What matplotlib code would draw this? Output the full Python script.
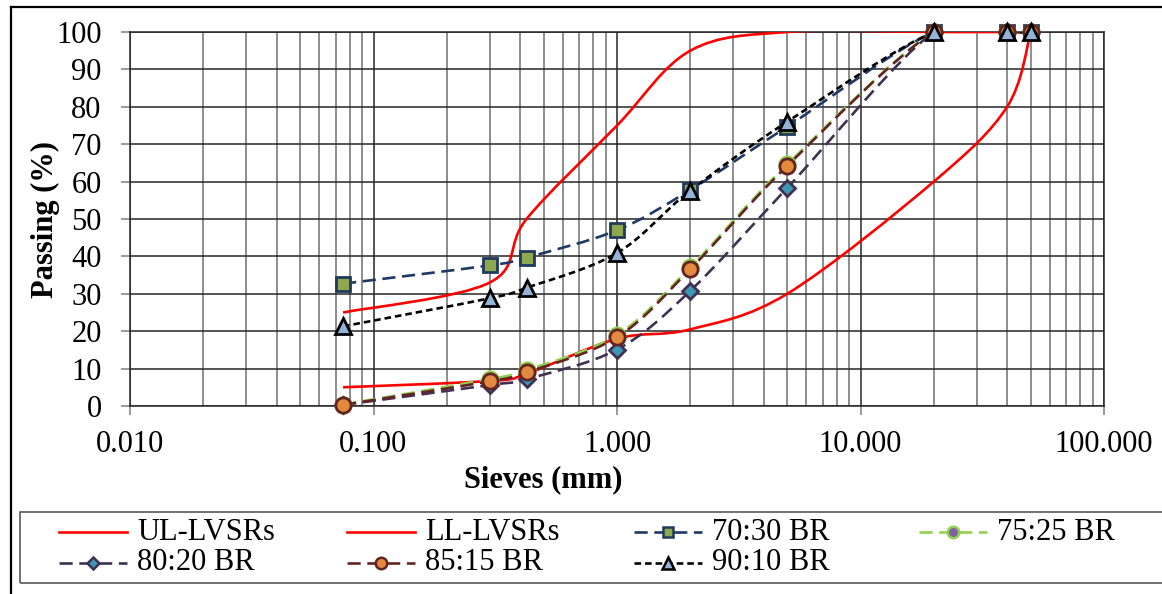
import numpy as np
import matplotlib
matplotlib.use("Agg")
import matplotlib.pyplot as plt
from matplotlib.path import Path
from matplotlib.patches import PathPatch, Rectangle
from matplotlib.lines import Line2D
from matplotlib.ticker import FixedLocator, LogLocator, NullFormatter

plt.rcParams['font.family'] = ['Liberation Serif', 'DejaVu Serif']

# ---------------- data ----------------
sieves = [0.075, 0.3, 0.425, 1.0, 2.0, 5.0, 20.0, 40.0, 50.0]
ul_lvsrs = [25, 33, 50, 75, 95, 100, 100, 100, 100]
ll_lvsrs = [5, 6.7, 8.6, 18, 20.5, 30, 60, 80, 100]
br_70_30 = [32.7, 37.6, 39.7, 47.0, 57.8, 74.7, 100, 100, 100]
br_75_25 = [0.4, 7.2, 9.6, 19.0, 37.1, 64.6, 100, 100, 100]
br_80_20 = [0.3, 5.6, 7.2, 15.1, 30.8, 58.3, 100, 100, 100]
br_85_15 = [0.3, 6.6, 9.0, 18.4, 36.6, 64.2, 100, 100, 100]
br_90_10 = [21.3, 28.8, 31.6, 40.9, 57.6, 76.0, 100, 100, 100]
x_ticks = [0.01, 0.1, 1, 10, 100]
x_tick_labels = ["0.010", "0.100", "1.000", "10.000", "100.000"]
y_ticks = list(range(0, 101, 10))

W, H = 1162, 594
fig = plt.figure(figsize=(W / 100, H / 100), dpi=100)
ax = fig.add_axes([130 / W, 1 - 406 / H, (1104 - 130) / W, (406 - 32) / H])


def smooth_path(xs, ys):
    """Excel-like smoothed line: cubic Bezier in display (log-x) space."""
    lx = np.log10(np.asarray(xs, float))
    yy = np.asarray(ys, float)
    P = np.column_stack([lx, yy])
    n = len(P)
    verts = [P[0]]
    codes = [Path.MOVETO]
    for i in range(n - 1):
        p0 = P[max(i - 1, 0)]
        p1 = P[i]
        p2 = P[i + 1]
        p3 = P[min(i + 2, n - 1)]
        c1 = p1 + (p2 - p0) / 6.0
        c2 = p2 - (p3 - p1) / 6.0
        verts += [c1, c2, p2]
        codes += [Path.CURVE4] * 3
    V = np.array(verts)
    V[:, 0] = 10 ** V[:, 0]
    return Path(V, codes)


series = [
    ("UL-LVSRs", ul_lvsrs, dict(color="#FF0000", ls="-", marker=None)),
    ("LL-LVSRs", ll_lvsrs, dict(color="#FF0000", ls="-", marker=None)),
    ("70:30 BR", br_70_30, dict(color="#1F3864", ls=(0, (5, 2.5)), marker="s",
                                mfc="#8DA84E", mec="#1F3A5C", ms=10.5)),
    ("75:25 BR", br_75_25, dict(color="#92D050", ls=(0, (5, 2.5)), marker="o",
                                mfc="#7F62A1", mec="#92D050", ms=11)),
    ("80:20 BR", br_80_20, dict(color="#403152", ls=(0, (5, 2.5)), marker="D",
                                mfc="#3F97B6", mec="#403152", ms=8.5)),
    ("85:15 BR", br_85_15, dict(color="#632523", ls=(0, (5, 2.5)), marker="o",
                                mfc="#E38A3E", mec="#632523", ms=11)),
    ("90:10 BR", br_90_10, dict(color="#000000", ls=(0, (2.5, 1.5)), marker="^",
                                mfc="#95B3D7", mec="#000000", ms=12)),
]

lw = 1.9
for i, (name, ys, st) in enumerate(series):
    patch = PathPatch(smooth_path(sieves, ys), fill=False, edgecolor=st["color"],
                      lw=lw, linestyle=st["ls"], zorder=3 + i * 0.1,
                      capstyle="butt", joinstyle="round")
    ax.add_patch(patch)
    if st["marker"]:
        ax.plot(sieves, ys, ls="none", marker=st["marker"], ms=st["ms"],
                mfc=st["mfc"], mec=st["mec"], mew=2, zorder=4 + i * 0.1,
                clip_on=False)

ax.set_xscale("log")
ax.set_xlim(0.01, 100)
ax.set_ylim(0, 100)
ax.xaxis.set_major_locator(FixedLocator(x_ticks))
ax.set_xticklabels(x_tick_labels)
ax.xaxis.set_minor_locator(LogLocator(base=10, subs=np.arange(2, 10)))
ax.xaxis.set_minor_formatter(NullFormatter())
ax.set_yticks(y_ticks)

ax.grid(True, which="major", axis="both", color="#262626", lw=1.1, zorder=0)
ax.grid(True, which="minor", axis="x", color="#6f6f6f", lw=1.1, zorder=0)
ax.set_axisbelow(True)
for s in ax.spines.values():
    s.set_color("#262626")
    s.set_linewidth(1.1)

ax.tick_params(axis="both", which="major", direction="out", length=6.5,
               width=1.1, color="#7f7f7f", labelsize=22)
ax.tick_params(axis="y", pad=14)
ax.tick_params(axis="x", pad=11)
ax.tick_params(axis="x", which="minor", length=0)

fig.text(45 / W, 1 - 220 / H, "Passing (%)", rotation=90, fontsize=22,
         fontweight="bold", ha="center", va="center")
fig.text(543 / W, 1 - 480 / H, "Sieves (mm)", fontsize=22,
         fontweight="bold", ha="center", va="center")

# outer chart border (left and top visible)
fig.add_artist(Line2D([11 / W, 11 / W], [0, 1 - 7 / H], transform=fig.transFigure,
                      color="black", lw=1.6))
fig.add_artist(Line2D([11 / W, 1], [1 - 7 / H, 1 - 7 / H], transform=fig.transFigure,
                      color="black", lw=1.6))

# legend box
fig.add_artist(Rectangle((20 / W, 1 - 583 / H), (1200 - 20) / W, (583 - 512) / H,
                         transform=fig.transFigure, fill=False,
                         edgecolor="#595959", lw=1.2))
col_x = [59, 347, 634, 919]
row_y = [532, 563]
hlen = 68
for i, (name, ys, st) in enumerate(series):
    r, c = divmod(i, 4)
    x0 = col_x[c] / W
    x1 = (col_x[c] + hlen) / W
    y = 1 - row_y[r] / H
    fig.add_artist(Line2D([x0, x1], [y, y], transform=fig.transFigure,
                          color=st["color"], lw=lw, ls=st["ls"]))
    if st["marker"]:
        fig.add_artist(Line2D([(x0 + x1) / 2], [y], transform=fig.transFigure,
                              ls="none", marker=st["marker"], ms=st["ms"] * 0.75,
                              mfc=st["mfc"], mec=st["mec"], mew=1.8))
    fig.text((col_x[c] + hlen + 10) / W, y, name, fontsize=22,
             ha="left", va="center")

fig.savefig("out.png", dpi=100)
